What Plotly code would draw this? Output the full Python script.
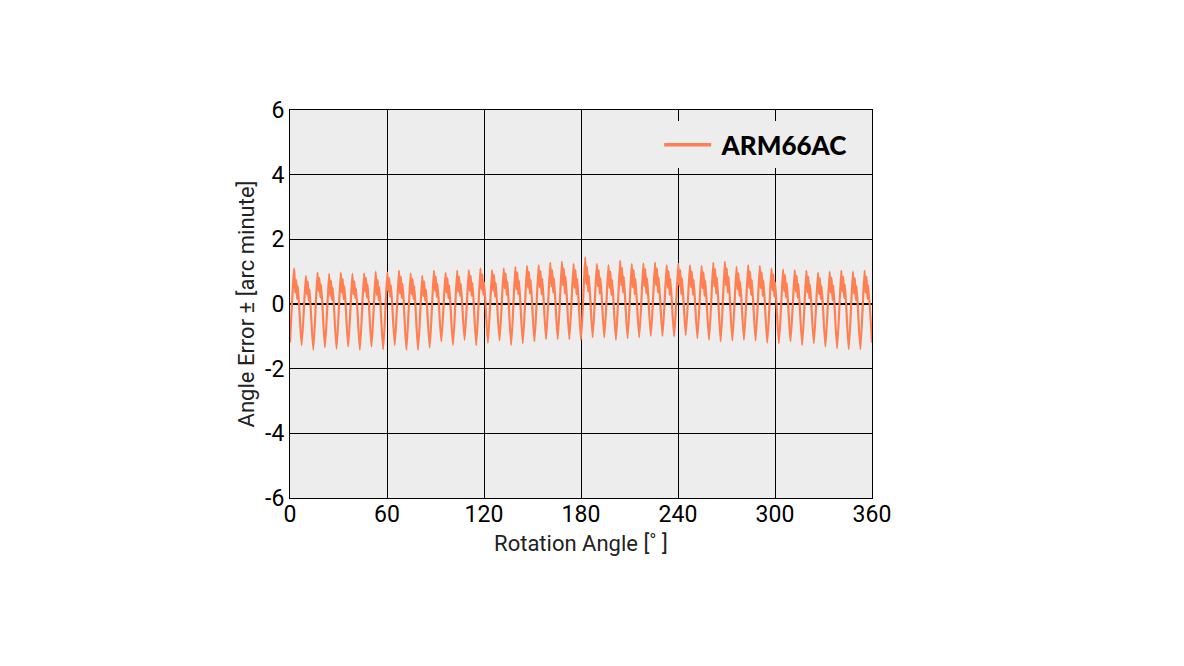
import plotly.graph_objects as go

# ---- data (arc minutes) ----
trough = [-1.20, -1.27, -1.42, -1.34, -1.39, -1.32, -1.42, -1.32, -1.40, -1.27,
          -1.42, -1.42, -1.35, -1.16, -1.27, -1.11, -1.27, -1.20, -1.13, -1.27,
          -1.22, -1.16, -1.09, -1.09, -1.09, -1.11, -1.03, -1.03, -1.11, -1.06,
          -1.03, -0.99, -0.99, -1.00, -0.96, -1.06, -1.11, -1.16, -1.13, -1.11,
          -1.13, -1.20, -1.22, -1.16, -1.27, -1.22, -1.32, -1.37, -1.40, -1.40,
          -1.20]
peak1 = [1.10, 0.87, 0.97, 0.93, 0.97, 0.93, 0.95, 1.00, 0.97, 1.03,
         0.95, 0.87, 1.03, 0.97, 1.03, 1.05, 1.10, 1.05, 1.10, 1.15,
         1.18, 1.20, 1.28, 1.31, 1.24, 1.44, 1.24, 1.20, 1.34, 1.24,
         1.26, 1.28, 1.20, 1.24, 1.20, 1.18, 1.28, 1.31, 1.15, 1.20,
         1.18, 1.10, 1.07, 1.05, 1.03, 0.97, 1.00, 1.03, 1.00, 1.03]
dip1 = [0.35, 0.30, 0.40, 0.25, 0.35, 0.30, 0.38, 0.28, 0.40, 0.32,
        0.30, 0.25, 0.42, 0.35, 0.38, 0.40, 0.45, 0.42, 0.48, 0.45,
        0.50, 0.52, 0.55, 0.58, 0.50, 0.62, 0.55, 0.50, 0.58, 0.52,
        0.55, 0.58, 0.50, 0.55, 0.52, 0.48, 0.55, 0.58, 0.45, 0.50,
        0.48, 0.42, 0.40, 0.38, 0.35, 0.30, 0.35, 0.38, 0.32, 0.35]
peak2 = [0.75, 0.70, 0.80, 0.72, 0.78, 0.70, 0.82, 0.75, 0.80, 0.85,
         0.78, 0.70, 0.85, 0.80, 0.85, 0.88, 0.92, 0.90, 0.95, 0.98,
         1.00, 1.02, 1.05, 1.10, 1.05, 1.15, 1.05, 1.00, 1.12, 1.05,
         1.08, 1.10, 1.02, 1.05, 1.00, 0.98, 1.08, 1.10, 0.95, 1.00,
         0.98, 0.92, 0.90, 0.88, 0.85, 0.80, 0.82, 0.85, 0.80, 0.85]
dip2 = [0.15, 0.10, 0.20, 0.12, 0.15, 0.18, 0.20, 0.12, 0.22, 0.18,
        0.15, 0.10, 0.22, 0.18, 0.25, 0.25, 0.28, 0.22, 0.28, 0.30,
        0.32, 0.30, 0.35, 0.32, 0.30, 0.38, 0.32, 0.28, 0.35, 0.30,
        0.32, 0.35, 0.28, 0.30, 0.28, 0.25, 0.32, 0.35, 0.25, 0.28,
        0.25, 0.22, 0.20, 0.20, 0.18, 0.15, 0.12, 0.18, 0.12, 0.15]
shoulder = [0.55, 0.45, 0.60, 0.50, 0.55, 0.48, 0.60, 0.52, 0.58, 0.62,
            0.55, 0.45, 0.62, 0.58, 0.62, 0.65, 0.68, 0.65, 0.70, 0.72,
            0.75, 0.78, 0.80, 0.85, 0.78, 0.88, 0.80, 0.75, 0.85, 0.78,
            0.80, 0.82, 0.78, 0.80, 0.75, 0.72, 0.82, 0.85, 0.70, 0.75,
            0.72, 0.68, 0.65, 0.62, 0.60, 0.55, 0.58, 0.60, 0.55, 0.58]
# position of each feature inside one error cycle (fraction of a cycle)
phase = [0.0, 0.36, 0.45, 0.53, 0.61, 0.68]

x_ticks = [0, 60, 120, 180, 240, 300, 360]
y_ticks = [-6, -4, -2, 0, 2, 4, 6]
y_tick_text = ["-6", "-4", "-2", "0", "2", "4", "6"]
series_name = "ARM66AC"

n = len(peak1)
period = 360.0 / n
xs, ys = [], []
for k in range(n):
    vals = [trough[k], peak1[k], dip1[k], peak2[k], dip2[k], shoulder[k]]
    for p, v in zip(phase, vals):
        xs.append((k + p) * period)
        ys.append(v)
xs.append(360.0)
ys.append(trough[n])

BG = "#ededed"
LINE = "#ff7f50"
FONT = "Roboto, 'Liberation Sans', sans-serif"

fig = go.Figure()
fig.add_trace(go.Scatter(x=xs, y=ys, mode="lines", name=series_name, showlegend=False,
                         line=dict(color=LINE, width=2.2, shape="spline", smoothing=0.6)))
# legend entry (thicker sample line, like the reference key)
fig.add_trace(go.Scatter(x=[None], y=[None], mode="lines", name="\u00a0" + series_name,
                         line=dict(color=LINE, width=3.5)))

axis_common = dict(showline=True, linecolor="black", linewidth=1, mirror=True,
                   showgrid=True, gridcolor="black", gridwidth=1,
                   ticks="", tickfont=dict(family=FONT, size=23, color="black"))
fig.update_xaxes(range=[0, 360], tickvals=x_ticks, zeroline=False, ticklabelstandoff=-5,
                 title=dict(text="Rotation Angle [˚ ]", font=dict(family=FONT, size=22, color="#222"), standoff=9),
                 **axis_common)
fig.update_yaxes(range=[-6, 6], tickvals=y_ticks, ticktext=y_tick_text,
                 zeroline=True, zerolinecolor="black", zerolinewidth=1.5,
                 title=dict(text="Angle Error ± [arc minute]", font=dict(family=FONT, size=22, color="#222"), standoff=4),
                 **axis_common)

fig.update_layout(
    width=1176, height=658,
    margin=dict(l=282, r=312, t=102, b=168),
    paper_bgcolor="white", plot_bgcolor=BG,
    showlegend=True,
    legend=dict(x=0.966, xanchor="right", y=0.91, yanchor="middle",
                bgcolor=BG, borderwidth=0,
                font=dict(family="Lato, 'Noto Sans', sans-serif", size=26, color="black", weight=900),
                itemwidth=47),
)

fig.write_html("out.html")
